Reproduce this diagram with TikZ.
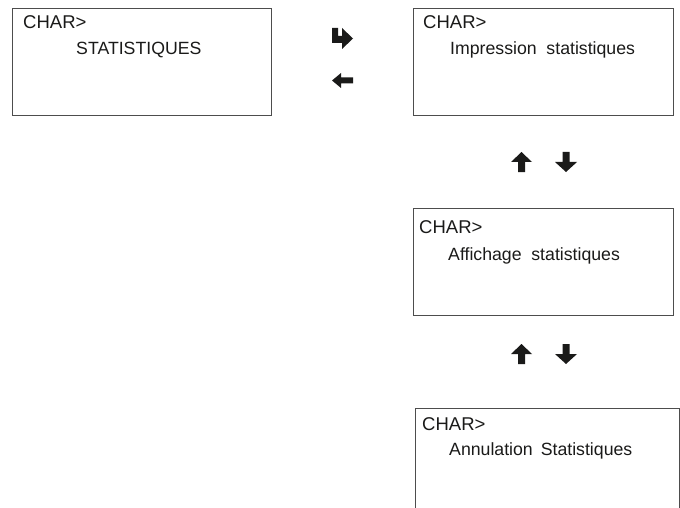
\documentclass[tikz,border=0pt]{standalone}
\usepackage{fontspec}
\setmainfont{Liberation Sans}
\definecolor{mFrame}{HTML}{4D4D4D}
\definecolor{mInk}{HTML}{1A1A19}
\usepackage{tikz}
\usetikzlibrary{positioning}

\begin{document}
\begin{tikzpicture}[x=1pt, y=-1pt,
  screen/.style={draw=mFrame, line width=1.3pt, anchor=north west, inner sep=0pt},
  prompt/.style={anchor=base west, inner sep=0pt, text=mInk, font=\fontsize{18.5}{20}\selectfont},
  menu/.style={anchor=base west, inner sep=0pt, text=mInk, font=\fontsize{17.7}{20}\selectfont},
  keyarrow/.style={fill=mInk, draw=none}]
\useasboundingbox (0,0) rectangle (680,508);
% screens
\node[screen, minimum width=259pt, minimum height=107pt] (stat) at (12,8) {};
\node[screen, minimum width=260pt, minimum height=107pt] (impr) at (413,8) {};
\node[screen, minimum width=260pt, minimum height=107pt] (affi) at (413,208) {};
\node[screen, minimum width=264pt, minimum height=130pt] (annu) at (415,408) {};
% texts
\node[prompt] (stat prompt) at (23,29) {CHAR>};
\node[menu] (stat menu) at (76,55) {STATISTIQUES};
\node[prompt] (impr prompt) at (423,29) {CHAR>};
\node[menu] (impr menu) at (450,55) {Impression\hspace{0.55em}statistiques};
\node[prompt] (affi prompt) at (419,233) {CHAR>};
\node[menu] (affi menu) at (448,260) {Affichage\hspace{0.55em}statistiques};
\node[prompt] (annu prompt) at (422,430) {CHAR>};
\node[menu] (annu menu) at (449,455) {Annulation\hspace{0.45em}Statistiques};
% enter / escape keys
\fill[keyarrow] (332,28) -- (338,28) -- (338,36) -- (342,36) -- (342,28) -- (353,38.5)
  -- (342,49) -- (342,43) -- (332,43) -- cycle;
\fill[keyarrow] (332,80.5) -- (341,73) -- (341,77.5) -- (353,77.5) -- (353,83.5)
  -- (341,83.5) -- (341,88) -- cycle;
% up / down keys
\foreach \y in {152,344} {
  \fill[keyarrow] (521.5,\y) -- (532,\y+10) -- (525,\y+10) -- (525,\y+20) -- (518,\y+20)
    -- (518,\y+10) -- (511,\y+10) -- cycle;
  \fill[keyarrow] (566,\y+20) -- (577,\y+10) -- (569.5,\y+10) -- (569.5,\y) -- (562.5,\y)
    -- (562.5,\y+10) -- (555,\y+10) -- cycle;
}
\end{tikzpicture}
\end{document}
